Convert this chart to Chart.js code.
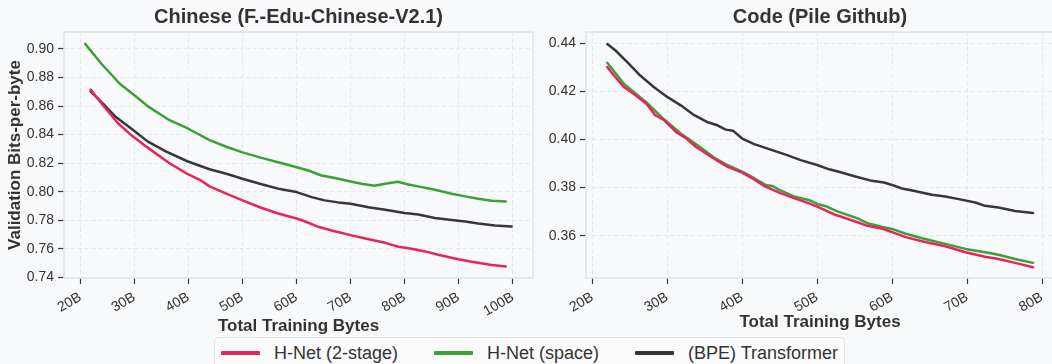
<!DOCTYPE html>
<html>
<head>
<meta charset="utf-8">
<script src="https://cdn.jsdelivr.net/npm/chart.js@4.4.1/dist/chart.umd.min.js"></script>
<style>
  html, body { margin: 0; padding: 0; background: #f8f9fb; overflow: hidden; }
  body { width: 1052px; height: 364px; position: relative; font-family: "Liberation Sans", Arial, sans-serif; }
  #zhBox { position: absolute; left: 0; top: 0; }
  #codeBox { position: absolute; left: 540px; top: 0; }
  #legend {
    position: absolute; left: 214px; top: 337px; height: 40px;
    border: 1px solid #e0e2e5; border-radius: 4px; background: #fbfbfc;
    display: flex; align-items: flex-start; padding: 4px 6px 0 6px; gap: 36px;
    color: #333;
  }
  #legend .item { display: flex; align-items: center; height: 22px; font-size: 18px; }
  #legend .swatch { width: 39px; height: 4px; margin-right: 14px; border-radius: 1px; }
</style>
</head>
<body>
<canvas id="zhBox" width="540" height="364"></canvas>
<canvas id="codeBox" width="520" height="364"></canvas>
<div id="legend"></div>

<script>
// ---- series names / colours ----
const seriesNames = ['H-Net (2-stage)', 'H-Net (space)', '(BPE) Transformer'];
const seriesColors = ['#e8245a', '#3aa037', '#36363b'];

// ---- Chinese (F.-Edu-Chinese-V2.1) ----
const zhTicksX = [20, 30, 40, 50, 60, 70, 80, 90, 100];
const zhTicksY = [0.74, 0.76, 0.78, 0.80, 0.82, 0.84, 0.86, 0.88, 0.90];

const zhTwoStageX = [21.9, 24.2, 27.0, 29.4, 32.2, 36.5, 39.9, 42.1, 43.9, 47.0, 50.0, 53.2, 56.3, 60.0, 61.5, 64.0, 66.5, 70.0, 72.7, 76.4, 78.8, 81.0, 83.8, 86.2, 89.9, 92.4, 96.1, 98.7];
const zhTwoStageY = [0.8715, 0.8606, 0.8478, 0.8397, 0.8316, 0.8200, 0.8123, 0.8084, 0.8038, 0.7987, 0.7940, 0.7892, 0.7852, 0.7813, 0.7794, 0.7755, 0.7729, 0.7697, 0.7674, 0.7643, 0.7616, 0.7604, 0.7583, 0.7560, 0.7528, 0.7511, 0.7488, 0.7477];

const zhSpaceX = [20.9, 23.9, 27.3, 30.0, 32.5, 36.5, 39.9, 43.9, 47.0, 50.0, 53.2, 57.8, 60.0, 62.2, 64.6, 67.1, 70.0, 72.0, 74.4, 76.4, 78.7, 80.7, 82.5, 85.6, 88.7, 91.2, 93.6, 96.1, 98.7];
const zhSpaceY = [0.9035, 0.8896, 0.8756, 0.8675, 0.8598, 0.8501, 0.8443, 0.8362, 0.8315, 0.8276, 0.8241, 0.8195, 0.8172, 0.8149, 0.8114, 0.8096, 0.8072, 0.8056, 0.8042, 0.8056, 0.8070, 0.8051, 0.8038, 0.8014, 0.7987, 0.7968, 0.7952, 0.7938, 0.7933];

const zhBpeX = [21.9, 24.2, 26.4, 29.4, 32.5, 35.9, 39.9, 43.9, 47.0, 50.0, 53.2, 56.9, 60.0, 62.8, 65.2, 67.7, 70.0, 73.3, 76.4, 80.0, 82.5, 85.6, 88.7, 91.2, 93.6, 96.7, 99.8];
const zhBpeY = [0.8703, 0.8617, 0.8529, 0.8443, 0.8351, 0.8281, 0.8212, 0.8158, 0.8126, 0.8091, 0.8056, 0.8019, 0.7998, 0.7963, 0.7940, 0.7926, 0.7917, 0.7892, 0.7875, 0.7852, 0.7841, 0.7817, 0.7803, 0.7792, 0.7778, 0.7764, 0.7757];

// ---- Code (Pile Github) ----
const codeTicksX = [20, 30, 40, 50, 60, 70, 80];
const codeTicksY = [0.36, 0.38, 0.40, 0.42, 0.44];

const codeTwoStageX = [22.0, 22.9, 24.2, 25.6, 27.3, 28.4, 29.6, 31.3, 32.4, 33.8, 36.2, 38.0, 40.0, 41.6, 43.1, 45.1, 46.9, 49.1, 50.0, 52.4, 55.1, 56.7, 58.7, 60.0, 61.8, 64.4, 67.1, 69.8, 72.4, 74.2, 76.4, 78.8];
const codeTwoStageY = [0.4301, 0.4266, 0.4218, 0.4188, 0.4146, 0.4101, 0.4080, 0.4028, 0.4008, 0.3970, 0.3921, 0.3887, 0.3862, 0.3834, 0.3804, 0.3777, 0.3756, 0.3732, 0.3721, 0.3687, 0.3659, 0.3641, 0.3629, 0.3615, 0.3594, 0.3574, 0.3556, 0.3531, 0.3512, 0.3503, 0.3487, 0.3469];

const codeSpaceX = [22.0, 24.2, 27.3, 29.6, 31.8, 34.0, 36.2, 38.0, 40.0, 41.6, 43.1, 44.0, 45.1, 46.9, 49.1, 50.0, 51.3, 52.7, 55.3, 56.7, 58.7, 60.0, 61.8, 64.4, 67.1, 69.8, 72.4, 74.2, 76.4, 78.8];
const codeSpaceY = [0.4319, 0.4232, 0.4152, 0.4083, 0.4025, 0.3977, 0.3926, 0.3894, 0.3866, 0.3839, 0.3811, 0.3807, 0.3788, 0.3763, 0.3746, 0.3732, 0.3721, 0.3701, 0.3673, 0.3652, 0.3636, 0.3628, 0.3608, 0.3586, 0.3566, 0.3545, 0.3531, 0.3521, 0.3503, 0.3487];

const codeBpeX = [22.0, 23.1, 24.7, 26.4, 28.2, 30.0, 31.8, 33.6, 35.3, 36.7, 37.8, 38.8, 40.0, 41.6, 43.3, 46.0, 47.8, 50.0, 51.6, 52.9, 55.1, 57.3, 58.9, 60.0, 61.3, 62.7, 65.3, 67.1, 68.9, 71.1, 72.4, 74.2, 76.4, 78.8];
const codeBpeY = [0.4397, 0.4370, 0.4321, 0.4266, 0.4218, 0.4177, 0.4142, 0.4101, 0.4073, 0.4059, 0.4041, 0.4036, 0.4004, 0.3981, 0.3963, 0.3935, 0.3914, 0.3894, 0.3876, 0.3866, 0.3846, 0.3828, 0.3821, 0.3811, 0.3796, 0.3788, 0.3770, 0.3763, 0.3752, 0.3738, 0.3724, 0.3717, 0.3703, 0.3694];

const INK = '#333333';
const GRID = '#e6e8eb';

// light frame round the plot area (all four sides)
const frame = {
  id: 'frame',
  beforeDatasetsDraw(chart) {
    const a = chart.chartArea, ctx = chart.ctx;
    ctx.save();
    ctx.strokeStyle = '#e2e4e7';
    ctx.lineWidth = 1.5;
    ctx.strokeRect(a.left, a.top, a.right - a.left, a.bottom - a.top);
    ctx.restore();
  }
};

const zip = (xs, ys) => xs.map((x, i) => ({ x, y: ys[i] }));

function makeChart(id, cfg) {
  const datasets = cfg.series.map((s, i) => ({
    label: seriesNames[i],
    data: zip(s[0], s[1]),
    borderColor: seriesColors[i],
    borderWidth: 2.5,
    pointRadius: 0,
    tension: 0,
    borderJoinStyle: 'round',
    borderCapStyle: 'round',
    fill: false
  }));

  return new Chart(document.getElementById(id), {
    type: 'line',
    data: { datasets },
    plugins: [frame],
    options: {
      responsive: false,
      animation: false,
      events: [],
      layout: { padding: cfg.padding },
      plugins: {
        legend: { display: false },
        tooltip: { enabled: false },
        title: {
          display: true, text: cfg.title, fullSize: false, color: INK,
          font: { family: 'Liberation Sans', size: 20, weight: 'bold', lineHeight: 1.2 },
          padding: { top: 5, bottom: 3 }
        }
      },
      scales: {
        x: {
          type: 'linear', min: cfg.xMin, max: cfg.xMax,
          afterBuildTicks: s => { s.ticks = cfg.xTicks.map(v => ({ value: v })); },
          afterFit: s => { s.height = cfg.xHeight; },
          ticks: {
            callback: v => v + 'B', minRotation: 30, maxRotation: 30, autoSkip: false,
            color: INK, padding: 5, font: { family: 'Liberation Sans', size: 14 }
          },
          grid: { color: GRID, lineWidth: 1, tickLength: 6, tickColor: '#3a3a3a', tickWidth: 1.2 },
          border: { display: false, dash: [4, 3] },
          title: {
            display: true, text: 'Total Training Bytes', color: INK,
            font: { family: 'Liberation Sans', size: 17, weight: 'bold', lineHeight: 1 },
            padding: { top: 0, bottom: 0 }
          }
        },
        y: {
          type: 'linear', min: cfg.yMin, max: cfg.yMax,
          afterBuildTicks: s => { s.ticks = cfg.yTicks.map(v => ({ value: v })); },
          afterFit: s => { s.width = cfg.yWidth; },
          ticks: {
            callback: v => v.toFixed(2), autoSkip: false,
            color: INK, padding: 4, font: { family: 'Liberation Sans', size: 14 }
          },
          grid: { color: GRID, lineWidth: 1, tickLength: 6, tickColor: '#3a3a3a', tickWidth: 1.2 },
          border: { display: false, dash: [4, 3] },
          title: {
            display: !!cfg.yTitle, text: cfg.yTitle || '', color: INK,
            font: { family: 'Liberation Sans', size: 17, weight: 'bold', lineHeight: 1 },
            padding: { top: 7, bottom: 0 }
          }
        }
      }
    }
  });
}

makeChart('zhBox', {
  title: 'Chinese (F.-Edu-Chinese-V2.1)',
  yTitle: 'Validation Bits-per-byte',
  series: [[zhTwoStageX, zhTwoStageY], [zhSpaceX, zhSpaceY], [zhBpeX, zhBpeY]],
  xTicks: zhTicksX, yTicks: zhTicksY,
  xMin: 16.98, xMax: 103.74, yMin: 0.7397, yMax: 0.9118,
  yWidth: 64, xHeight: 57,
  padding: { left: 0, right: 7, top: 0, bottom: 29 }
});

makeChart('codeBox', {
  title: 'Code (Pile Github)',
  series: [[codeTwoStageX, codeTwoStageY], [codeSpaceX, codeSpaceY], [codeBpeX, codeBpeY]],
  xTicks: codeTicksX, yTicks: codeTicksY,
  xMin: 19.16, xMax: 81.6, yMin: 0.3424, yMax: 0.4447,
  yWidth: 46, xHeight: 53,
  padding: { left: 0, right: 6, top: 0, bottom: 33 }
});

// legend built from the series names/colours
const legend = document.getElementById('legend');
seriesNames.forEach((name, i) => {
  const item = document.createElement('div');
  item.className = 'item';
  const sw = document.createElement('span');
  sw.className = 'swatch';
  sw.style.background = seriesColors[i];
  item.appendChild(sw);
  item.appendChild(document.createTextNode(name));
  legend.appendChild(item);
});
</script>
</body>
</html>
